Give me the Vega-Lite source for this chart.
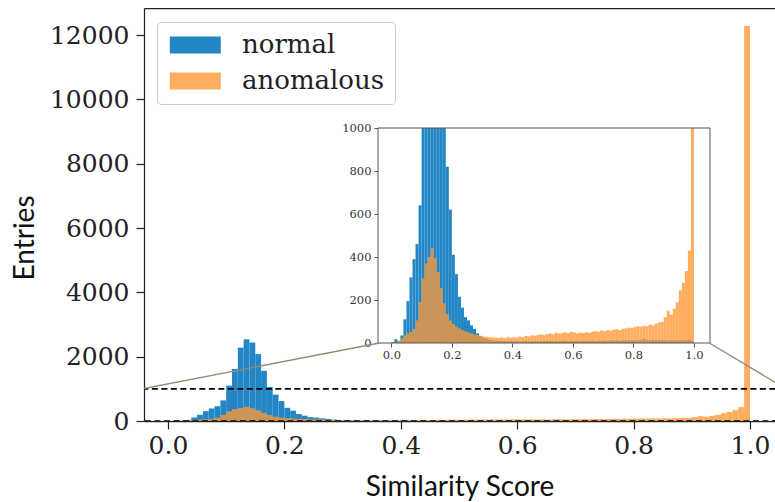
{
  "$schema": "https://vega.github.io/schema/vega-lite/v6.json",
  "width": 631,
  "height": 413,
  "autosize": {"type": "none"},
  "padding": {"left": 144, "top": 8, "right": 0, "bottom": 81},
  "background": "white",
  "config": {
    "view": {"stroke": null},
    "axis": {"grid": false, "labelFlush": false, "labelOverlap": false, "labelBound": false}
  },
  "datasets": {
    "hist": [
      {"lo":0,"hi":0.01,"normal":4,"anomalous":0},
      {"lo":0.01,"hi":0.02,"normal":18,"anomalous":3},
      {"lo":0.02,"hi":0.03,"normal":10,"anomalous":10},
      {"lo":0.03,"hi":0.04,"normal":35,"anomalous":22},
      {"lo":0.04,"hi":0.05,"normal":110,"anomalous":35},
      {"lo":0.05,"hi":0.06,"normal":195,"anomalous":45},
      {"lo":0.06,"hi":0.07,"normal":305,"anomalous":52},
      {"lo":0.07,"hi":0.08,"normal":390,"anomalous":65},
      {"lo":0.08,"hi":0.09,"normal":460,"anomalous":105},
      {"lo":0.09,"hi":0.1,"normal":640,"anomalous":190},
      {"lo":0.1,"hi":0.11,"normal":1100,"anomalous":300},
      {"lo":0.11,"hi":0.12,"normal":1620,"anomalous":370},
      {"lo":0.12,"hi":0.13,"normal":2280,"anomalous":400},
      {"lo":0.13,"hi":0.14,"normal":2540,"anomalous":440},
      {"lo":0.14,"hi":0.15,"normal":2440,"anomalous":395},
      {"lo":0.15,"hi":0.16,"normal":2080,"anomalous":330},
      {"lo":0.16,"hi":0.17,"normal":1560,"anomalous":255},
      {"lo":0.17,"hi":0.18,"normal":1060,"anomalous":185},
      {"lo":0.18,"hi":0.19,"normal":820,"anomalous":135},
      {"lo":0.19,"hi":0.2,"normal":620,"anomalous":105},
      {"lo":0.2,"hi":0.21,"normal":410,"anomalous":88},
      {"lo":0.21,"hi":0.22,"normal":320,"anomalous":76},
      {"lo":0.22,"hi":0.23,"normal":215,"anomalous":68},
      {"lo":0.23,"hi":0.24,"normal":165,"anomalous":60},
      {"lo":0.24,"hi":0.25,"normal":120,"anomalous":54},
      {"lo":0.25,"hi":0.26,"normal":105,"anomalous":50},
      {"lo":0.26,"hi":0.27,"normal":82,"anomalous":45},
      {"lo":0.27,"hi":0.28,"normal":66,"anomalous":40},
      {"lo":0.28,"hi":0.29,"normal":45,"anomalous":37},
      {"lo":0.29,"hi":0.3,"normal":32,"anomalous":34},
      {"lo":0.3,"hi":0.31,"normal":24,"anomalous":31},
      {"lo":0.31,"hi":0.32,"normal":18,"anomalous":29},
      {"lo":0.32,"hi":0.33,"normal":14,"anomalous":27},
      {"lo":0.33,"hi":0.34,"normal":12,"anomalous":26},
      {"lo":0.34,"hi":0.35,"normal":10,"anomalous":25},
      {"lo":0.35,"hi":0.36,"normal":11,"anomalous":24},
      {"lo":0.36,"hi":0.37,"normal":9,"anomalous":26},
      {"lo":0.37,"hi":0.38,"normal":10,"anomalous":23},
      {"lo":0.38,"hi":0.39,"normal":8,"anomalous":27},
      {"lo":0.39,"hi":0.4,"normal":9,"anomalous":25},
      {"lo":0.4,"hi":0.41,"normal":8,"anomalous":28},
      {"lo":0.41,"hi":0.42,"normal":9,"anomalous":26},
      {"lo":0.42,"hi":0.43,"normal":7,"anomalous":30},
      {"lo":0.43,"hi":0.44,"normal":8,"anomalous":28},
      {"lo":0.44,"hi":0.45,"normal":9,"anomalous":33},
      {"lo":0.45,"hi":0.46,"normal":7,"anomalous":31},
      {"lo":0.46,"hi":0.47,"normal":8,"anomalous":36},
      {"lo":0.47,"hi":0.48,"normal":9,"anomalous":34},
      {"lo":0.48,"hi":0.49,"normal":7,"anomalous":38},
      {"lo":0.49,"hi":0.5,"normal":8,"anomalous":40},
      {"lo":0.5,"hi":0.51,"normal":9,"anomalous":37},
      {"lo":0.51,"hi":0.52,"normal":8,"anomalous":42},
      {"lo":0.52,"hi":0.53,"normal":10,"anomalous":45},
      {"lo":0.53,"hi":0.54,"normal":7,"anomalous":41},
      {"lo":0.54,"hi":0.55,"normal":9,"anomalous":48},
      {"lo":0.55,"hi":0.56,"normal":8,"anomalous":44},
      {"lo":0.56,"hi":0.57,"normal":10,"anomalous":47},
      {"lo":0.57,"hi":0.58,"normal":9,"anomalous":50},
      {"lo":0.58,"hi":0.59,"normal":8,"anomalous":46},
      {"lo":0.59,"hi":0.6,"normal":11,"anomalous":52},
      {"lo":0.6,"hi":0.61,"normal":9,"anomalous":49},
      {"lo":0.61,"hi":0.62,"normal":10,"anomalous":45},
      {"lo":0.62,"hi":0.63,"normal":8,"anomalous":48},
      {"lo":0.63,"hi":0.64,"normal":11,"anomalous":46},
      {"lo":0.64,"hi":0.65,"normal":9,"anomalous":50},
      {"lo":0.65,"hi":0.66,"normal":10,"anomalous":47},
      {"lo":0.66,"hi":0.67,"normal":12,"anomalous":53},
      {"lo":0.67,"hi":0.68,"normal":9,"anomalous":55},
      {"lo":0.68,"hi":0.69,"normal":11,"anomalous":52},
      {"lo":0.69,"hi":0.7,"normal":10,"anomalous":58},
      {"lo":0.7,"hi":0.71,"normal":12,"anomalous":55},
      {"lo":0.71,"hi":0.72,"normal":10,"anomalous":60},
      {"lo":0.72,"hi":0.73,"normal":13,"anomalous":57},
      {"lo":0.73,"hi":0.74,"normal":11,"anomalous":62},
      {"lo":0.74,"hi":0.75,"normal":12,"anomalous":64},
      {"lo":0.75,"hi":0.76,"normal":10,"anomalous":60},
      {"lo":0.76,"hi":0.77,"normal":13,"anomalous":66},
      {"lo":0.77,"hi":0.78,"normal":12,"anomalous":68},
      {"lo":0.78,"hi":0.79,"normal":11,"anomalous":72},
      {"lo":0.79,"hi":0.8,"normal":14,"anomalous":70},
      {"lo":0.8,"hi":0.81,"normal":12,"anomalous":75},
      {"lo":0.81,"hi":0.82,"normal":13,"anomalous":78},
      {"lo":0.82,"hi":0.83,"normal":15,"anomalous":76},
      {"lo":0.83,"hi":0.84,"normal":20,"anomalous":80},
      {"lo":0.84,"hi":0.85,"normal":13,"anomalous":78},
      {"lo":0.85,"hi":0.86,"normal":12,"anomalous":85},
      {"lo":0.86,"hi":0.87,"normal":14,"anomalous":82},
      {"lo":0.87,"hi":0.88,"normal":13,"anomalous":90},
      {"lo":0.88,"hi":0.89,"normal":12,"anomalous":95},
      {"lo":0.89,"hi":0.9,"normal":14,"anomalous":98},
      {"lo":0.9,"hi":0.91,"normal":12,"anomalous":120},
      {"lo":0.91,"hi":0.92,"normal":11,"anomalous":150},
      {"lo":0.92,"hi":0.93,"normal":13,"anomalous":132},
      {"lo":0.93,"hi":0.94,"normal":12,"anomalous":160},
      {"lo":0.94,"hi":0.95,"normal":11,"anomalous":190},
      {"lo":0.95,"hi":0.96,"normal":13,"anomalous":245},
      {"lo":0.96,"hi":0.97,"normal":12,"anomalous":280},
      {"lo":0.97,"hi":0.98,"normal":14,"anomalous":335},
      {"lo":0.98,"hi":0.99,"normal":16,"anomalous":430},
      {"lo":0.99,"hi":1,"normal":10,"anomalous":12280}
    ],
    "zoombox": [{"x0": -0.044, "x1": 1.062, "y0": 0, "y1": 1000}],
    "conn": [
      {"g": "left", "x": -0.044, "y": 1000},
      {"g": "left", "x": 0.361, "y": 2417},
      {"g": "right", "x": 1.062, "y": 1000},
      {"g": "right", "x": 0.931, "y": 2417}
    ],
    "insetframe": [{"x0": -0.044, "x1": 1.053, "y0": 0, "y1": 1000}]
  },
  "layer": [
    {
      "layer": [
        {
          "data": {"name": "hist"},
          "mark": {"type": "bar", "opacity": 1},
          "encoding": {
            "x": {
              "field": "lo", "type": "quantitative",
              "scale": {"domain": [-0.0412, 1.043], "nice": false, "zero": false},
              "axis": {
                "orient": "bottom", "title": "Similarity Score",
                "values": [0, 0.2, 0.4, 0.6, 0.8, 1], "format": ".1f",
                "domain": true, "domainColor": "#222", "domainWidth": 1.25,
                "ticks": true, "tickSize": 8, "tickColor": "#222", "tickWidth": 1.2,
                "labelFont": "DejaVu Serif", "labelFontSize": 25, "labelColor": "#222", "labelPadding": 4,
                "titleFont": "Lato", "titleFontSize": 28, "titleFontWeight": "normal", "titleColor": "#111",
                "titleY": 74, "titleBaseline": "alphabetic"
              }
            },
            "x2": {"field": "hi"},
            "y": {
              "field": "normal", "type": "quantitative", "title": "Entries",
              "scale": {"domain": [0, 12840], "nice": false},
              "axis": {
                "orient": "left", "title": "Entries",
                "values": [0, 2000, 4000, 6000, 8000, 10000, 12000], "format": "d",
                "domain": true, "domainColor": "#222", "domainWidth": 1.25,
                "ticks": true, "tickSize": 8, "tickColor": "#222", "tickWidth": 1.2,
                "labelFont": "DejaVu Serif", "labelFontSize": 25, "labelColor": "#222", "labelPadding": 7,
                "titleFont": "Lato", "titleFontSize": 28, "titleFontWeight": "normal", "titleColor": "#111",
                "titleAngle": 270, "titleX": -119, "titleY": 229.5, "titleAlign": "center", "titleBaseline": "middle"
              }
            },
            "y2": {"datum": 0},
            "color": {
              "datum": "normal", "type": "nominal",
              "scale": {"domain": ["normal", "anomalous"], "range": ["#2387c5", "#ff9733"]},
              "legend": {
                "title": null, "orient": "none", "legendX": 13, "legendY": 14,
                "labelFont": "DejaVu Serif", "labelFontSize": 26, "labelColor": "#222",
                "symbolType": "M-1,-0.833H4V0.833H-1Z", "symbolSize": 416, "symbolStrokeWidth": 0,
                "labelOffset": 49, "padding": 10, "rowPadding": 10,
                "strokeColor": "#cccccc", "fillColor": "rgba(255,255,255,0.8)", "cornerRadius": 4,
                "symbolOpacity": 1,
                "encode": {"symbols": {"update": {"opacity": {"signal": "datum.value === 'anomalous' ? 0.79 : 1"}}}}
              }
            }
          }
        },
        {
          "data": {"name": "hist"},
          "mark": {"type": "bar", "opacity": 0.79},
          "encoding": {
            "x": {
              "field": "lo", "type": "quantitative",
              "scale": {"domain": [-0.0412, 1.043], "nice": false, "zero": false},
              "axis": {"orient": "top", "title": null, "labels": false, "ticks": false, "domain": true, "domainColor": "#222", "domainWidth": 1.25}
            },
            "x2": {"field": "hi"},
            "y": {"field": "anomalous", "type": "quantitative", "title": "Entries", "scale": {"domain": [0, 12840], "nice": false}},
            "y2": {"datum": 0},
            "color": {"datum": "anomalous", "type": "nominal"}
          }
        },
        {
          "data": {"name": "zoombox"},
          "mark": {"type": "rect", "filled": false, "color": "#000", "strokeWidth": 1.6, "strokeDash": [6, 3.5], "clip": true},
          "encoding": {
            "x": {"field": "x0", "type": "quantitative", "axis": null, "scale": {"domain": [-0.0412, 1.043], "nice": false, "zero": false}},
            "x2": {"field": "x1"},
            "y": {"field": "y0", "type": "quantitative", "title": "Entries", "scale": {"domain": [0, 12840], "nice": false}},
            "y2": {"field": "y1"}
          }
        },
        {
          "data": {"name": "conn"},
          "mark": {"type": "line", "color": "#8e8e78", "strokeWidth": 1.4, "clip": true},
          "encoding": {
            "x": {"field": "x", "type": "quantitative", "axis": null, "scale": {"domain": [-0.0412, 1.043], "nice": false, "zero": false}},
            "y": {"field": "y", "type": "quantitative", "title": "Entries", "scale": {"domain": [0, 12840], "nice": false}},
            "detail": {"field": "g", "type": "nominal"}
          }
        }
      ],
      "resolve": {"axis": {"x": "independent"}}
    },
    {
      "layer": [
        {
          "data": {"name": "insetframe"},
          "mark": {"type": "rect", "color": "white", "opacity": 1},
          "encoding": {
            "x": {
              "field": "x0", "type": "quantitative",
              "scale": {"domain": [-0.044, 1.053], "range": [234, 566], "nice": false, "zero": false},
              "axis": {
                "orient": "bottom", "offset": -78, "title": null,
                "values": [0, 0.2, 0.4, 0.6, 0.8, 1], "format": ".1f",
                "domain": false, "ticks": true, "tickSize": 4, "tickColor": "#555", "tickWidth": 1,
                "labelFont": "DejaVu Serif", "labelFontSize": 11.5, "labelColor": "#333", "labelPadding": 2
              }
            },
            "x2": {"field": "x1"},
            "y": {
              "field": "y0", "type": "quantitative", "title": null,
              "scale": {"domain": [0, 1000], "range": [335, 120], "nice": false, "clamp": true},
              "axis": {
                "orient": "left", "offset": -234, "title": null,
                "values": [0, 200, 400, 600, 800, 1000], "format": "d",
                "domain": false, "ticks": true, "tickSize": 4, "tickColor": "#555", "tickWidth": 1,
                "labelFont": "DejaVu Serif", "labelFontSize": 11.5, "labelColor": "#333", "labelPadding": 3
              }
            },
            "y2": {"field": "y1"}
          }
        },
        {
          "data": {"name": "hist"},
          "mark": {"type": "bar", "opacity": 1},
          "encoding": {
            "x": {"field": "lo", "type": "quantitative", "title": null, "scale": {"domain": [-0.044, 1.053], "range": [234, 566], "nice": false, "zero": false}},
            "x2": {"field": "hi"},
            "y": {"field": "normal", "type": "quantitative", "title": null, "scale": {"domain": [0, 1000], "range": [335, 120], "nice": false, "clamp": true}},
            "y2": {"datum": 0},
            "color": {"datum": "normal", "type": "nominal"}
          }
        },
        {
          "data": {"name": "hist"},
          "mark": {"type": "bar", "opacity": 0.79},
          "encoding": {
            "x": {"field": "lo", "type": "quantitative", "title": null, "scale": {"domain": [-0.044, 1.053], "range": [234, 566], "nice": false, "zero": false}},
            "x2": {"field": "hi"},
            "y": {"field": "anomalous", "type": "quantitative", "title": null, "scale": {"domain": [0, 1000], "range": [335, 120], "nice": false, "clamp": true}},
            "y2": {"datum": 0},
            "color": {"datum": "anomalous", "type": "nominal"}
          }
        },
        {
          "data": {"name": "insetframe"},
          "mark": {"type": "rect", "filled": false, "color": "#555", "strokeWidth": 1},
          "encoding": {
            "x": {"field": "x0", "type": "quantitative", "title": null, "scale": {"domain": [-0.044, 1.053], "range": [234, 566], "nice": false, "zero": false}},
            "x2": {"field": "x1"},
            "y": {"field": "y0", "type": "quantitative", "title": null, "scale": {"domain": [0, 1000], "range": [335, 120], "nice": false, "clamp": true}},
            "y2": {"field": "y1"}
          }
        }
      ]
    }
  ],
  "resolve": {
    "scale": {"x": "independent", "y": "independent"},
    "axis": {"x": "independent", "y": "independent"}
  }
}
